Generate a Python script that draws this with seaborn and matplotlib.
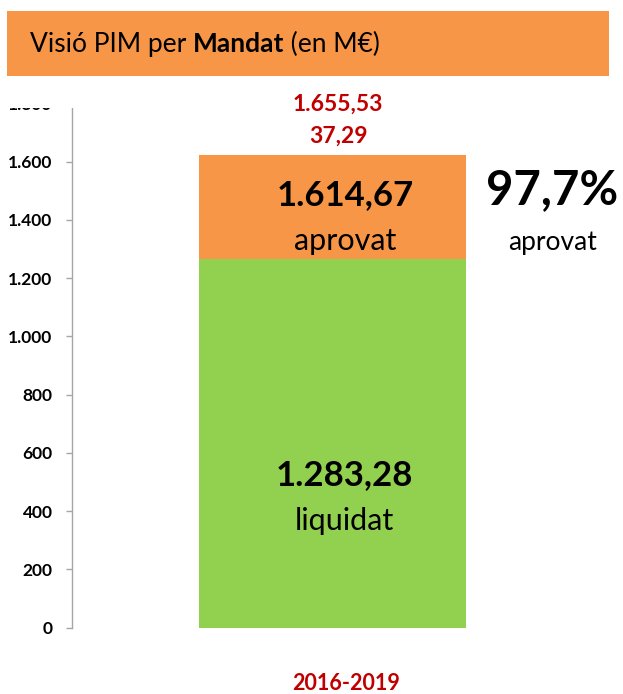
import matplotlib
matplotlib.use("Agg")
import matplotlib.pyplot as plt
import matplotlib.patches as mpatches
import pandas as pd
import seaborn as sns

# values (M€)
periode = ["2016-2019"]
aprovat = [1622]          # orange bar top
liquidat = [1266]         # green bar top
lbl_aprovat = "1.614,67"
lbl_liquidat = "1.283,28"
lbl_total = "1.655,53"
lbl_extra = "37,29"
lbl_pct = "97,7%"
yticks = [0, 200, 400, 600, 800, 1000, 1200, 1400, 1600, 1800]
ytick_labels = ["0", "200", "400", "600", "800", "1.000", "1.200", "1.400", "1.600", "1.800"]

ORANGE = "#F79646"
GREEN = "#92D050"
RED = "#C00000"

sns.set_theme(style="white")
plt.rcParams["font.family"] = ["Lato", "DejaVu Sans"]
plt.rcParams["text.color"] = "black"

W, H = 623, 694
fig = plt.figure(figsize=(W / 100, H / 100), dpi=100)
fig.patch.set_facecolor("white")

# axes placed in pixel terms
x0, x1, ybot, ytop = 72, 620, 627.7, 103.5
ax = fig.add_axes([x0 / W, (H - ybot) / H, (x1 - x0) / W, (ybot - ytop) / H])

df = pd.DataFrame({"periode": periode, "aprovat": aprovat, "liquidat": liquidat})
sns.barplot(data=df, x="periode", y="aprovat", color=ORANGE, saturation=1,
            width=0.8, ax=ax, zorder=2)
sns.barplot(data=df, x="periode", y="liquidat", color=GREEN, saturation=1,
            width=0.8, ax=ax, zorder=3)
for p in ax.patches:
    p.set_edgecolor("none")

ax.set_xlim(-0.7806, 0.8614)
ax.set_ylim(0, 1800)
ax.set_yticks(yticks)
ax.set_yticklabels(ytick_labels, fontsize=12.5, fontweight="bold", color="black")
ax.tick_params(axis="y", length=4, width=1, color="#A6A6A6", pad=10, left=True)
ax.set_xticks([])
ax.set_xlabel(""); ax.set_ylabel("")
for s in ("top", "right", "bottom"):
    ax.spines[s].set_visible(False)
ax.spines["left"].set_color("#A6A6A6")
ax.spines["left"].set_linewidth(1)

# labels inside / beside the bar
xc = 0.037
ax.text(xc, 1486, lbl_aprovat, ha="center", va="center", fontsize=25, fontweight="bold", color="black", zorder=5)
ax.text(xc, 1328, "aprovat", ha="center", va="center", fontsize=22, color="black", zorder=5)
ax.text(xc, 524, lbl_liquidat, ha="center", va="center", fontsize=25, fontweight="bold", color="black", zorder=5)
ax.text(xc, 368, "liquidat", ha="center", va="center", fontsize=22, color="black", zorder=5)
ax.text(0.658, 1503, lbl_pct, ha="center", va="center", fontsize=34, fontweight="bold", color="black", zorder=5)
ax.text(0.658, 1322, "aprovat", ha="center", va="center", fontsize=19, color="black", zorder=5)

# clip the top of the axis like the original
fig.add_artist(mpatches.Rectangle((0, (H - 108) / H), 180 / W, 40 / H,
                                  transform=fig.transFigure, facecolor="white",
                                  edgecolor="none", zorder=5))

# red labels above the bar and below the axis
fig.text(338 / W, 1 - 104.5 / H, lbl_total, ha="center", va="center", fontsize=16.5,
         fontweight="bold", color=RED, zorder=6)
fig.text(338 / W, 1 - 136 / H, lbl_extra, ha="center", va="center", fontsize=16.5,
         fontweight="bold", color=RED, zorder=6)
fig.text(346 / W, 1 - 684 / H, periode[0], ha="center", va="center", fontsize=15.5,
         fontweight="bold", color=RED, zorder=6)

# title banner
fig.add_artist(mpatches.Rectangle((7 / W, 1 - 76 / H), 602 / W, 65 / H,
                                  transform=fig.transFigure, facecolor=ORANGE,
                                  edgecolor="none", zorder=6))
renderer = fig.canvas.get_renderer()
xpos = 30 / W
for txt, fw in (("Visió PIM per ", "normal"), ("Mandat", "bold"), (" (en M€)", "normal")):
    t = fig.text(xpos, 1 - 52 / H, txt, ha="left", va="baseline", fontsize=19,
                 fontweight=fw, color="black", zorder=7)
    bb = t.get_window_extent(renderer)
    xpos = bb.x1 / W

fig.savefig("out.png", dpi=100)
